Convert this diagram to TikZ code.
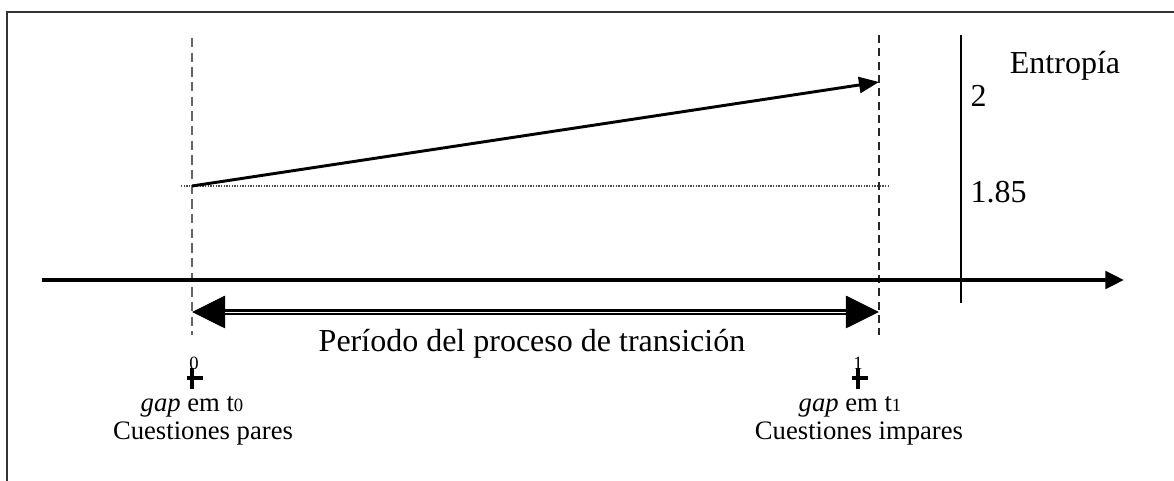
\documentclass[tikz,border=0pt]{standalone}
\usepackage{fontspec}
\setmainfont{Liberation Serif}
\usetikzlibrary{arrows.meta}
\newcommand{\tinydigit}{\fontsize{7}{8}\selectfont}
\begin{document}
\begin{tikzpicture} [x=0.375pt, y=-0.375pt]
\useasboundingbox (0, 0) rectangle (1174, 481);
\coordinate (A) at (192, 186);
\coordinate (B) at (879, 82);
\coordinate [label={[inner sep=0pt]above:\tinydigit 0}] (t0) at (194, 370);
\coordinate [label={[inner sep=0pt]above:\tinydigit 1}] (t1) at (858, 370);
\coordinate (P0) at (192, 312);
\coordinate (P1) at (879, 312);
\coordinate (O) at (42, 280);
\coordinate (X) at (1124, 280);
\node [anchor=base, font=\fontsize{12}{14}\selectfont] (periodo) at (532, 352) {Período del proceso de transición};
\node [anchor=base, font=\fontsize{12}{14}\selectfont] (entropia) at (1065, 74) {Entropía};
\node [anchor=base west, inner sep=0pt, font=\fontsize{12}{14}\selectfont] (dos) at (970, 107) {2};
\node [anchor=base west, inner sep=0pt, font=\fontsize{12}{14}\selectfont] (uno85) at (970, 203) {1.85};
\node [anchor=base, font=\fontsize{10}{12}\selectfont] (gap0) at (192, 412) {\textit{gap} em t{\tinydigit 0}};
\node [anchor=base, font=\fontsize{10}{12}\selectfont] (gap1) at (850, 412) {\textit{gap} em t{\tinydigit 1}};
\node [anchor=base, font=\fontsize{10}{12}\selectfont] (pares) at (203, 440) {Cuestiones pares};
\node [anchor=base, font=\fontsize{10}{12}\selectfont] (impares) at (859, 440) {Cuestiones impares};
\draw[line width=0.6pt, black!80] (7, 481) -- (7, 12) -- (1174, 12);
\draw[dashed, black!60, line width=0.4pt, dash pattern=on 3.5pt off 2pt] (192, 38) -- (192, 335);
\draw[dashed, black!85, line width=0.4pt, dash pattern=on 3pt off 2pt] (879, 35) -- (879, 335);
\draw[dotted, black!70, line width=0.4pt, dash pattern=on 0.5pt off 0.5pt] (181, 186) -- (889, 186);
\draw[-{Triangle[length=7.5pt, width=6pt]}, line width=1.1pt] (A) -- (B);
\draw[-{Triangle[length=7pt, width=6.5pt]}, line width=1.5pt] (O) -- (X);
\draw[line width=0.5pt] (961, 35) -- (961, 303);
\draw[{Triangle[length=12.4pt, width=12pt]}-{Triangle[length=12.4pt, width=12pt]}, double, double distance=0.3pt, line width=1.15pt] (P0) -- (P1);
\draw[line width=1.4pt] (192, 368) -- (192, 389);
\draw[line width=1.4pt] (187, 378) -- (203, 378);
\draw[line width=1.4pt] (858, 368) -- (858, 389);
\draw[line width=1.4pt] (852, 378) -- (868, 378);
\end{tikzpicture}
\end{document}
